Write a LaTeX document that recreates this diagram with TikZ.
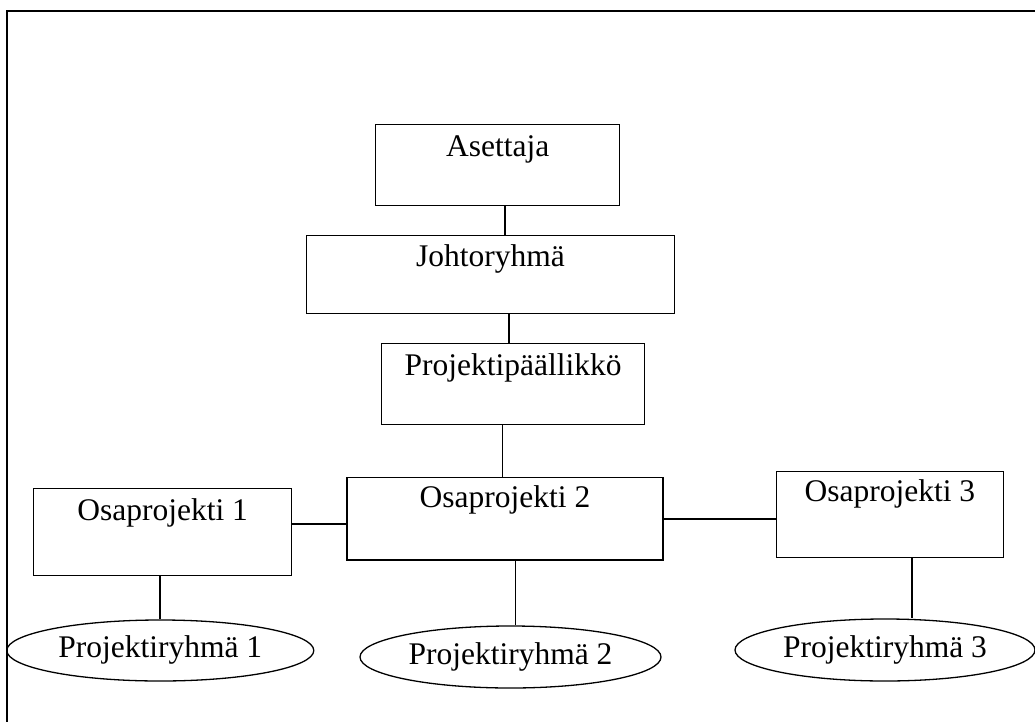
\documentclass[tikz,border=0pt]{standalone}
\usepackage{fontspec}
\setmainfont{Liberation Serif}
\usetikzlibrary{shapes.geometric}
\begin{document}
\begin{tikzpicture}[x=1pt,y=-1pt,
  box/.style={draw, line width=1.3pt, rectangle, inner sep=0pt, anchor=north west,
    font=\fontsize{31.5}{36}\selectfont},
  oval/.style={draw, line width=1.3pt, ellipse, inner sep=0pt, text height=22pt, text depth=8pt,
    font=\fontsize{31.5}{36}\selectfont},
  conn/.style={line width=1.3pt}]
\useasboundingbox (0,0) rectangle (1035,722);
\draw[line width=2pt] (7,722) -- (7,11) -- (1035,11);
% boxes
\node[box, minimum width=244pt, text height=32pt, text depth=49pt] (ase) at (375,124) {Asettaja};
\node[box, minimum width=368.5pt, text height=31pt, text depth=47pt] (joh) at (305.5,235) {Johtoryhmä};
\node[box, minimum width=263pt, text height=32pt, text depth=49pt] (pp) at (381,343) {Projektipäällikkö};
\node[box, minimum width=258pt, text height=32pt, text depth=55pt] (o1) at (33,487.7) {Osaprojekti 1};
\node[box, minimum width=316pt, text height=30pt, text depth=52.6pt] (o2) at (346.3,476.7) {Osaprojekti 2};
\node[box, minimum width=227.5pt, text height=30pt, text depth=56pt] (o3) at (775.5,471) {Osaprojekti 3};
% ellipses
\node[oval, minimum width=307pt, minimum height=61pt] (e1) at (160.3,650.5) {Projektiryhmä 1};
\node[oval, minimum width=301pt, minimum height=62pt] (e2) at (510.5,657) {Projektiryhmä 2};
\node[oval, minimum width=300pt, minimum height=62pt] (e3) at (885,650) {Projektiryhmä 3};
% connector guide coordinates
\coordinate (x1) at (505,0);
\coordinate (x2) at (509,0);
\coordinate (x3) at (502.5,0);
\coordinate (x4) at (160,0);
\coordinate (x5) at (515.5,0);
\coordinate (x6) at (912,0);
\coordinate (y1) at (0,524);
\coordinate (y2) at (0,519);
% connectors
\draw[conn] (ase.south -| x1) -- (joh.north -| x1);
\draw[conn] (joh.south -| x2) -- (pp.north -| x2);
\draw[conn] (pp.south -| x3) -- (o2.north -| x3);
\draw[conn] (o1.east |- y1) -- (o2.west |- y1);
\draw[conn] (o2.east |- y2) -- (o3.west |- y2);
\draw[conn] (o1.south -| x4) -- (e1.north -| x4);
\draw[conn] (o2.south -| x5) -- (e2.north -| x5);
\draw[conn] (o3.south -| x6) -- (e3.north -| x6);
\end{tikzpicture}
\end{document}
